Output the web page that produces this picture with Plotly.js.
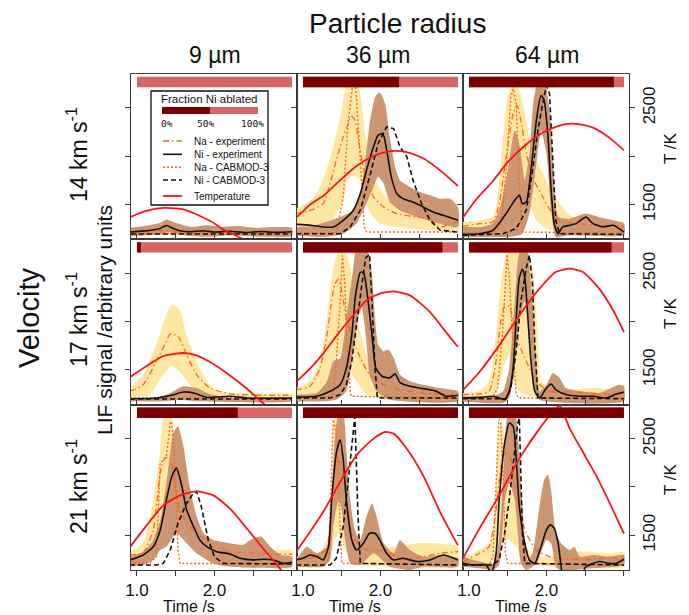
<!DOCTYPE html>
<html><head><meta charset="utf-8">
<script src="https://cdn.plot.ly/plotly-3.0.1.min.js"></script>
<style>html,body{margin:0;padding:0;background:#fff}#chart{width:689px;height:615px}</style>
</head><body><div id="chart"></div>
<script>
// ---------- labels ----------
const radii = ['9 µm', '36 µm', '64 µm'];
const velocities = ['14 km s<sup>-1</sup>', '17 km s<sup>-1</sup>', '21 km s<sup>-1</sup>'];
const legendLabels = ['Na - experiment', 'Ni - experiment', 'Na - CABMOD-3', 'Ni - CABMOD-3', 'Temperature'];
const fractionLegendTicks = ['0%', '50%', '100%'];
const legendBarFraction = 0.5;
const timeTicks = [1.0, 2.0];
const timeTickText = ['1.0', '2.0'];
const timeMinorStep = 0.5;
const tempTicks = [1500, 2500];
const tempTickText = ['1500', '2500'];
const tempMinorStep = 500;
const tempRange = [1140, 2852];
// fraction of Ni ablated, panels row by row (14, 17, 21 km/s) x (9, 36, 64 µm)
const fractionNiAblated = [0.0, 0.62, 0.935, 0.025, 0.90, 0.92, 0.65, 1.0, 1.0];

// ---------- data: [time s, value]; LIF in arbitrary units (0-100 panel), T in K ----------
// 14 km/s, 9 µm
const p11_temp = [[0.92,1372],[1.0,1400],[1.12,1435],[1.25,1458],[1.36,1466],[1.5,1460],[1.6,1450],[1.75,1405],[1.86,1364],[2.0,1305],[2.11,1243],[2.25,1190],[2.37,1140],[2.5,1080],[2.63,1019]];
const p11_naHi = [[0.92,6.5],[1.3,7.5],[1.6,6.5],[2.0,6.2],[2.5,6.5],[3.0,6.3]];
const p11_naLo = [[0.92,2.5],[1.5,2.8],[2.0,2.4],[3.0,2.5]];
const p11_naExp = [[0.92,4.2],[1.1,4.6],[1.3,5.2],[1.45,4.8],[1.6,4.2],[1.8,4.5],[2.0,4.0],[2.2,4.4],[2.4,4.0],[2.6,4.3],[2.8,4.0],[3.0,4.3]];
const p11_niHi = [[0.92,7],[1.1,8],[1.3,10],[1.38,12],[1.5,10],[1.7,7.5],[1.9,8.5],[2.1,7.5],[2.3,8],[2.5,7],[2.8,7.5],[3.0,7]];
const p11_niLo = [[0.92,2],[1.3,3],[1.4,4.5],[1.6,2.5],[1.9,1.5],[2.2,2.5],[2.6,1.5],[3.0,2]];
const p11_niExp = [[0.92,4.4],[1.0,4.8],[1.1,5.1],[1.2,5.6],[1.3,6.6],[1.38,8.4],[1.45,7.0],[1.55,5.2],[1.7,4.6],[1.85,5.2],[2.0,4.4],[2.2,4.9],[2.4,4.1],[2.6,4.7],[2.8,4.2],[3.0,4.6]];
const p11_naCab = [[0.92,3.6],[3.0,3.6]];
const p11_niCab = [[0.92,3.2],[3.0,3.2]];
// 14 km/s, 36 µm
const p12_temp = [[0.91,1364],[1.0,1430],[1.1,1505],[1.26,1588],[1.45,1730],[1.69,1899],[1.91,2003],[2.05,2040],[2.17,2055],[2.34,2044],[2.55,1979],[2.77,1854],[3.0,1692]];
const p12_naHi = [[0.91,18.6],[1.0,20.6],[1.1,23.6],[1.2,29.7],[1.3,41.8],[1.4,58],[1.5,78],[1.56,94],[1.63,99],[1.7,96],[1.76,82],[1.8,64],[1.9,40],[2.0,30],[2.1,24.6],[2.2,21.6],[2.4,19.6],[2.6,17.6],[2.8,15.6],[3.0,13.5]];
const p12_naLo = [[0.91,3.4],[1.1,4.4],[1.3,7.5],[1.4,13.5],[1.5,21.6],[1.58,35.8],[1.65,38.8],[1.74,35.8],[1.8,23.6],[1.9,13.5],[2.0,9.5],[2.2,7.5],[2.6,5.9],[3.0,5.1]];
const p12_naExp = [[0.91,15.6],[1.1,17.6],[1.26,21.6],[1.35,33.7],[1.43,47.9],[1.52,62],[1.585,70],[1.62,74.5],[1.67,72],[1.71,62],[1.76,47.9],[1.82,35.8],[1.91,25.7],[2.04,19.6],[2.21,15.6],[2.47,13.5],[2.64,12.5],[2.72,8.5],[2.81,7.5],[2.9,10.5],[3.0,9.9]];
const p12_niHi = [[0.91,7.5],[1.1,7.9],[1.3,10.5],[1.48,13.5],[1.65,17.6],[1.74,27.7],[1.8,45.9],[1.86,70],[1.93,86],[1.99,89],[2.06,82],[2.12,62],[2.19,43.8],[2.25,35.8],[2.38,31.7],[2.51,28.7],[2.64,26.7],[2.77,24.6],[2.9,24.6],[3.0,19.6]];
const p12_niLo = [[0.91,2.4],[1.26,1.4],[1.52,3.4],[1.69,9.5],[1.8,19.6],[1.91,31.7],[1.97,37.8],[2.04,33.7],[2.12,22.6],[2.25,17.6],[2.47,13.5],[2.68,10.5],[3.0,7.5]];
const p12_niExp = [[0.91,9.1],[1.1,8.5],[1.26,7.5],[1.39,7.5],[1.52,11.5],[1.65,17.6],[1.74,27.7],[1.82,41.8],[1.91,56],[1.97,63],[2.03,64],[2.08,54],[2.14,37.8],[2.21,27.7],[2.29,24.6],[2.42,22.6],[2.55,19.6],[2.68,16.6],[2.81,14.5],[3.0,11.5]];
const p12_naCab = [[0.91,4],[1.43,4],[1.52,25.7],[1.585,72],[1.64,93],[1.68,92],[1.735,52],[1.79,7.5],[1.82,4.4],[3.0,4.4]];
const p12_niCab = [[0.91,3.4],[1.48,3.4],[1.61,7.5],[1.74,17.6],[1.86,37.8],[1.97,58],[2.08,68],[2.17,67],[2.25,56],[2.34,50],[2.42,35.8],[2.53,21.6],[2.64,11.5],[2.77,5.5],[3.0,4.4]];
// 14 km/s, 64 µm
const p13_temp = [[0.92,1364],[1.1,1560],[1.31,1744],[1.5,1940],[1.74,2124],[1.9,2220],[2.04,2279],[2.2,2325],[2.34,2338],[2.5,2320],[2.6,2296],[2.81,2193],[3.0,2061]];
const p13_naHi = [[0.92,10.5],[1.14,11.5],[1.31,13.5],[1.37,25.7],[1.44,62],[1.5,86],[1.57,94],[1.65,90],[1.74,72],[1.8,56],[1.91,43.8],[2.04,31.7],[2.17,21.6],[2.3,14.5],[2.51,11.5],[2.77,10.5],[3.0,10.5]];
const p13_naLo = [[0.92,3.4],[1.31,4.4],[1.39,7.5],[1.48,21.6],[1.57,31.7],[1.65,37.8],[1.72,35.8],[1.78,21.6],[1.87,11.5],[2.0,6.5],[3.0,4.4]];
const p13_naExp = [[0.92,7.9],[1.14,9.5],[1.31,10.5],[1.39,21.6],[1.48,50],[1.57,76],[1.62,81],[1.67,72],[1.74,52],[1.82,37.8],[1.95,25.7],[2.08,15.6],[2.21,10.5],[2.38,9.5],[2.68,8.5],[3.0,7.9]];
const p13_niHi = [[0.92,7.5],[1.14,7.5],[1.31,9.5],[1.415,21.6],[1.5,41.8],[1.59,66],[1.65,58],[1.72,35.8],[1.78,52],[1.83,82],[1.89,96],[1.97,96],[2.04,78],[2.09,41.8],[2.15,13.5],[2.3,12.5],[2.51,15.6],[2.68,13.5],[2.86,11.5],[3.0,9.5]];
const p13_niLo = [[0.92,1.4],[1.31,1.4],[1.52,1.4],[1.69,3.4],[1.78,15.6],[1.87,45.9],[1.93,66],[2.0,52],[2.06,17.6],[2.12,1.4],[2.3,2.4],[3.0,2.4]];
const p13_niExp = [[0.92,3],[1.14,3.4],[1.31,5.5],[1.48,15.6],[1.59,23.6],[1.65,26.7],[1.69,21.6],[1.74,22.6],[1.8,41.8],[1.87,72],[1.93,87],[1.97,84],[2.02,62],[2.06,29.7],[2.1,9.5],[2.15,3.4],[2.21,7.5],[2.3,8.5],[2.38,9.5],[2.51,13.5],[2.6,9.5],[2.73,7.5],[2.86,8.5],[3.0,4.4]];
const p13_naCab = [[0.92,3.8],[1.31,3.8],[1.415,9.5],[1.48,41.8],[1.54,86],[1.57,91],[1.61,82],[1.65,31.7],[1.69,4.4],[3.0,3.8]];
const p13_niCab = [[0.92,2.4],[1.44,3.4],[1.61,6.5],[1.74,17.6],[1.82,41.8],[1.89,66],[1.95,82],[2.0,93],[2.04,88],[2.08,52],[2.12,11.5],[2.17,3.4],[3.0,3]];
// 17 km/s, 9 µm
const p21_temp = [[0.91,1426],[1.17,1564],[1.34,1644],[1.6,1675],[1.77,1651],[1.98,1564],[2.2,1443],[2.42,1305],[2.61,1167],[2.72,1098]];
const p21_naHi = [[0.91,10.1],[1.08,18.2],[1.25,36.4],[1.38,54.5],[1.45,60.6],[1.55,57.6],[1.64,42.4],[1.77,26.3],[1.9,14.1],[2.03,8.1],[2.2,7.1],[2.63,6.5],[3.0,6.5]];
const p21_naLo = [[0.91,3],[1.17,6.1],[1.34,18.2],[1.45,23.2],[1.55,20.2],[1.68,12.1],[1.86,5.1],[2.2,4],[3.0,4]];
const p21_naExp = [[0.91,8.1],[1.08,12.1],[1.25,26.3],[1.38,38.4],[1.43,42.8],[1.53,41.4],[1.64,30.3],[1.77,18.2],[1.94,10.1],[2.2,6.5],[2.63,5.7],[3.0,5.7]];
const p21_niHi = [[0.91,3],[1.25,4],[1.43,7.1],[1.6,11.1],[1.77,10.1],[1.94,6.5],[2.2,4],[3.0,4]];
const p21_niLo = [[0.91,2],[1.34,2],[1.55,3],[1.77,2],[3.0,2]];
const p21_niExp = [[0.91,3.6],[1.25,4],[1.43,5.5],[1.6,7.7],[1.73,7.1],[1.9,4.4],[2.2,5.1],[2.42,4],[3.0,4]];
const p21_naCab = [[0.91,4],[3.0,4]];
const p21_niCab = [[0.91,3.4],[3.0,3.4]];
// 17 km/s, 36 µm
const p22_temp = [[0.91,1374],[1.1,1520],[1.26,1668],[1.45,1870],[1.61,2030],[1.82,2220],[1.99,2289],[2.17,2313],[2.38,2272],[2.64,2099],[2.81,1927],[3.0,1737]];
const p22_naHi = [[0.91,10.1],[1.09,14.1],[1.22,26.3],[1.31,52.5],[1.39,82.8],[1.46,92.9],[1.54,95],[1.61,82.8],[1.67,62.6],[1.74,44.4],[1.82,30.3],[1.95,20.2],[2.12,14.1],[2.34,10.1],[2.64,8.1],[3.0,8.1]];
const p22_naLo = [[0.91,3],[1.18,4],[1.31,12.1],[1.39,26.3],[1.48,30.3],[1.58,22.2],[1.69,14.1],[1.82,6.1],[2.12,3],[3.0,3]];
const p22_naExp = [[0.91,9.1],[1.09,11.1],[1.22,22.2],[1.31,42.4],[1.37,62.6],[1.41,72.7],[1.46,76],[1.5,68.7],[1.56,52.5],[1.65,38.4],[1.74,28.3],[1.86,18.2],[2.04,12.1],[2.25,9.1],[2.55,7.1],[3.0,5.5]];
const p22_niHi = [[0.91,6.1],[1.18,7.1],[1.31,14.1],[1.39,26.3],[1.48,28],[1.56,52.5],[1.65,82.8],[1.69,95],[1.82,95],[1.89,78.8],[1.93,52.5],[1.97,36.4],[2.04,32.3],[2.1,33.3],[2.17,28.3],[2.25,18.2],[2.38,14.1],[2.64,11.1],[2.9,9.1],[3.0,8.1]];
const p22_niLo = [[0.91,2],[1.26,2],[1.43,3],[1.56,8.1],[1.65,32.3],[1.71,52.5],[1.76,58.6],[1.81,42.4],[1.86,18.2],[1.95,8.1],[2.12,3],[3.0,2]];
const p22_niExp = [[0.91,4.6],[1.18,5.1],[1.35,8.1],[1.48,12.1],[1.56,22.2],[1.63,42.4],[1.68,66.7],[1.74,80],[1.78,80],[1.83,66.7],[1.89,42.4],[1.94,22.2],[2.02,17.2],[2.12,16.2],[2.19,18.6],[2.25,13.5],[2.38,11.1],[2.55,9.7],[2.72,8.1],[2.85,5.1],[3.0,5.7]];
const p22_naCab = [[0.91,4],[1.26,4.4],[1.39,6.1],[1.43,26.3],[1.48,62.6],[1.51,90.3],[1.54,72.7],[1.58,22.2],[1.62,5.1],[3.0,4]];
const p22_niCab = [[0.91,4],[1.35,4],[1.48,6.1],[1.56,12.1],[1.63,26.3],[1.69,48.5],[1.76,72.7],[1.81,88.9],[1.86,90.9],[1.89,62.6],[1.93,22.2],[1.96,4],[3.0,4]];
// 17 km/s, 64 µm
const p23_temp = [[0.92,1288],[1.135,1478],[1.39,1754],[1.65,2065],[1.91,2341],[2.12,2514],[2.3,2548],[2.47,2514],[2.68,2341],[2.86,2117],[3.0,1892]];
const p23_naHi = [[0.92,7.1],[1.135,8.1],[1.26,14.1],[1.35,42.4],[1.41,72.7],[1.48,90.9],[1.6,95],[1.74,95],[1.82,82.8],[1.89,42.4],[1.93,14.1],[2.04,10.1],[2.3,9.1],[2.6,10.1],[3.0,8.1]];
const p23_naLo = [[0.92,3],[1.31,4],[1.39,12.1],[1.46,25],[1.52,30],[1.58,14],[1.65,8.1],[1.74,6.1],[1.91,4],[3.0,3]];
const p23_naExp = [[0.92,6.1],[1.135,6.5],[1.26,8.1],[1.35,26.3],[1.41,50.5],[1.46,59.6],[1.52,59.6],[1.57,50.5],[1.65,36.4],[1.74,26.3],[1.87,14.1],[2.04,8.1],[2.38,7.7],[2.68,6.5],[3.0,6.5]];
const p23_niHi = [[0.92,5.1],[1.31,5.1],[1.44,8.1],[1.52,22.2],[1.59,62.6],[1.63,86.9],[1.67,95],[1.74,95],[1.8,72.7],[1.87,26.3],[1.91,8.1],[2.0,12.1],[2.08,19.2],[2.17,16.2],[2.25,10.1],[2.43,8.1],[2.68,7.1],[2.94,12.1],[3.0,11.1]];
const p23_niLo = [[0.92,2],[1.44,1],[1.52,4],[1.59,22.2],[1.65,52.5],[1.72,62.6],[1.78,42.4],[1.85,10.1],[1.91,3],[3.0,2]];
const p23_niExp = [[0.92,4],[1.135,4.4],[1.31,5.1],[1.39,4],[1.46,3],[1.52,8.1],[1.57,22.2],[1.61,52.5],[1.65,76.8],[1.69,81.8],[1.72,76.8],[1.76,52.5],[1.8,26.3],[1.85,8.1],[1.91,4],[2.0,10.1],[2.06,12.5],[2.12,9.1],[2.25,6.1],[2.43,5.1],[2.6,5.1],[2.77,4],[2.9,6.5],[3.0,7.7]];
const p23_naCab = [[0.92,4],[1.31,4.4],[1.37,10.1],[1.43,42.4],[1.47,72.7],[1.49,90.9],[1.52,78.8],[1.57,32.3],[1.61,6.1],[1.65,4],[3.0,4]];
const p23_niCab = [[0.92,3.6],[1.48,3.6],[1.54,10.1],[1.61,32.3],[1.67,62.6],[1.74,82.8],[1.78,90.5],[1.82,72.7],[1.85,36.4],[1.89,4],[3.0,3.6]];
// 21 km/s, 9 µm
const p31_temp = [[0.91,1378],[1.125,1602],[1.34,1809],[1.555,1913],[1.77,1954],[1.985,1913],[2.2,1775],[2.42,1568],[2.63,1360],[2.76,1240],[2.9,1100]];
const p31_naHi = [[0.91,11.1],[1.08,16.2],[1.21,42.4],[1.3,72.7],[1.34,92],[1.43,96],[1.5,70],[1.58,45],[1.64,34.3],[1.77,26.3],[1.83,14.1],[1.98,11.1],[2.2,9.7],[2.63,11.1],[3.0,12.1]];
const p31_naLo = [[0.91,4],[1.125,5.1],[1.25,8.1],[1.34,18.2],[1.43,32.3],[1.51,36.4],[1.6,30.3],[1.73,18.2],[1.86,10.1],[2.03,6.1],[3.0,4]];
const p31_naExp = [[0.91,9.1],[1.08,10.5],[1.21,24.2],[1.3,58.6],[1.36,67.5],[1.42,68.1],[1.49,50.5],[1.55,36.4],[1.68,26.3],[1.83,20.2],[1.98,14.1],[2.2,11.1],[2.46,10.5],[2.72,9.7],[3.0,9.5]];
const p31_niHi = [[0.91,8.1],[1.08,11.1],[1.21,18.2],[1.3,30.3],[1.38,52.5],[1.47,82.8],[1.53,86.9],[1.6,74.7],[1.68,50.5],[1.77,32.3],[1.86,22.2],[1.985,18.2],[2.2,16.2],[2.37,15.2],[2.46,18.2],[2.6,20.2],[2.72,14.1],[2.85,9.1],[3.0,8.1]];
const p31_niLo = [[0.91,2],[1.08,3],[1.21,6.1],[1.3,12.1],[1.38,14.1],[1.51,22.2],[1.64,16.2],[1.77,10.1],[1.985,4],[2.2,2],[3.0,2]];
const p31_niExp = [[0.91,6.1],[1.08,9.1],[1.21,14.1],[1.3,24.2],[1.38,42.4],[1.45,56.6],[1.51,61.6],[1.58,50.5],[1.64,36.4],[1.73,26.3],[1.81,18.2],[1.9,14.1],[2.03,11.1],[2.2,9.7],[2.33,7.1],[2.5,6.1],[2.63,6.5],[2.76,6.1],[2.89,4],[3.0,4.6]];
const p31_naCab = [[0.91,4],[1.17,4.4],[1.25,8.1],[1.3,64.6],[1.34,66.7],[1.38,68.7],[1.43,88.9],[1.45,89.9],[1.49,62.6],[1.53,12.1],[1.555,4],[3.0,3.6]];
const p31_niCab = [[0.91,3],[1.25,3],[1.34,4],[1.43,12.1],[1.53,28.3],[1.64,40.4],[1.73,46.5],[1.77,47.5],[1.83,38.4],[1.92,18.2],[2.0,8.1],[2.11,4],[3.0,3.6]];
// 21 km/s, 36 µm
const p32_temp = [[0.91,1326],[1.09,1533],[1.26,1740],[1.48,2051],[1.69,2327],[1.91,2500],[2.06,2569],[2.17,2552],[2.34,2396],[2.55,2120],[2.77,1740],[3.0,1395]];
const p32_naHi = [[0.91,8.1],[1.18,9.1],[1.31,18.2],[1.37,52.5],[1.41,90.9],[1.48,92.9],[1.52,72.7],[1.56,42.4],[1.63,26.3],[1.69,18.2],[1.82,14.1],[1.99,14.1],[2.21,14.1],[2.47,16.2],[2.72,16.2],[3.0,14.1]];
const p32_naLo = [[0.91,2],[1.26,2],[1.35,6.1],[1.41,18.2],[1.48,22.2],[1.54,12.1],[1.69,4],[2.12,2],[3.0,2]];
const p32_naExp = [[0.91,7.1],[1.18,8.1],[1.31,14.1],[1.37,42.4],[1.41,62.6],[1.46,65.7],[1.5,62.6],[1.56,42.4],[1.63,22.2],[1.74,14.1],[1.91,11.1],[2.04,12.1],[2.21,8.1],[2.38,7.1],[2.55,8.1],[2.77,10.1],[3.0,11.1]];
const p32_niHi = [[0.91,6.1],[1.05,14.1],[1.18,10.1],[1.31,14.1],[1.37,42.4],[1.41,78.8],[1.46,95],[1.52,95],[1.56,72.7],[1.61,42.4],[1.67,24.2],[1.74,18.2],[1.82,32.3],[1.89,40.4],[1.95,32.3],[2.04,16.2],[2.17,10.1],[2.25,18.2],[2.38,12.1],[2.55,8.1],[2.77,9.1],[3.0,7.1]];
const p32_niLo = [[0.91,2],[1.26,2],[1.35,6.1],[1.39,26.3],[1.46,42.4],[1.5,36.4],[1.55,16.2],[1.61,4],[1.74,3],[1.91,10.1],[2.12,2],[2.38,0],[2.55,2],[3.0,2]];
const p32_niExp = [[0.91,6.1],[1.0,7.1],[1.09,9.1],[1.18,8.1],[1.26,6.1],[1.33,14.1],[1.37,42.4],[1.43,70.7],[1.48,78.8],[1.52,66.7],[1.56,42.4],[1.63,18.2],[1.69,12.1],[1.78,16.2],[1.86,22.2],[1.93,22.2],[1.99,18.2],[2.08,10.1],[2.17,6.1],[2.29,7.1],[2.47,5.1],[2.64,6.1],[2.81,9.1],[3.0,6.1]];
const p32_naCab = [[0.91,3],[1.26,3],[1.33,6.1],[1.37,62.6],[1.39,90.9],[1.43,82.8],[1.47,42.4],[1.5,4],[3.0,3]];
const p32_niCab = [[0.91,3],[1.35,3],[1.43,7.1],[1.52,26.3],[1.58,52.5],[1.65,86.9],[1.67,92.9],[1.69,62.6],[1.71,32.3],[1.74,4],[3.0,3]];
// 21 km/s, 64 µm
const p33_temp = [[0.92,1257],[1.135,1568],[1.39,1913],[1.65,2293],[1.91,2604],[2.08,2776],[2.17,2840],[2.3,2604],[2.47,2362],[2.64,2120],[2.81,1844],[3.0,1516]];
const p33_naHi = [[0.92,7.1],[1.135,12.1],[1.26,16.2],[1.33,32.3],[1.37,72.7],[1.41,90.9],[1.46,82.8],[1.5,62.6],[1.54,48.5],[1.59,42.4],[1.65,32.3],[1.74,14.1],[1.87,8.1],[2.17,8.5],[2.38,11.1],[2.6,11.1],[2.81,10.1],[3.0,10.5]];
const p33_naLo = [[0.92,3],[1.26,3],[1.35,8.1],[1.44,18.2],[1.52,18.2],[1.61,14.1],[1.69,6.1],[1.87,3],[3.0,2]];
const p33_naExp = [[0.92,5.1],[1.135,10.1],[1.26,14.1],[1.35,36.4],[1.415,62.6],[1.46,70.7],[1.5,71.7],[1.54,66.7],[1.59,52.5],[1.65,36.4],[1.74,22.2],[1.87,12.1],[2.04,8.1],[2.25,6.5],[2.51,6.5],[2.77,7.1],[3.0,7.1]];
const p33_niHi = [[0.92,8.1],[1.135,5.1],[1.31,4],[1.37,12.1],[1.44,52.5],[1.48,88.9],[1.52,96],[1.59,96],[1.63,82.8],[1.67,52.5],[1.72,18.2],[1.76,6.1],[1.82,10.1],[1.91,38.4],[1.97,54.5],[2.02,57.6],[2.06,48.5],[2.12,22.2],[2.19,16.2],[2.3,12.1],[2.36,14.1],[2.43,8.1],[2.6,9.1],[2.81,8.1],[3.0,9.1]];
const p33_niLo = [[0.92,2],[1.135,1],[1.31,0],[1.39,3],[1.46,42.4],[1.52,52.5],[1.59,42.4],[1.63,22.2],[1.67,4],[1.74,0],[1.87,4],[2.0,18.2],[2.06,16.2],[2.12,2],[2.21,-1],[2.38,0],[2.6,1],[3.0,3]];
const p33_niExp = [[0.92,4],[1.05,3],[1.22,3],[1.29,-2],[1.35,10.1],[1.39,42.4],[1.46,76.8],[1.52,88.9],[1.57,86.9],[1.61,66.7],[1.65,38.4],[1.72,16.2],[1.78,6.1],[1.85,4],[1.93,14.1],[2.0,24.2],[2.05,27.3],[2.1,25.3],[2.15,16.2],[2.19,2],[2.21,-3],[2.45,-3],[2.51,2],[2.68,5.1],[2.81,4],[2.9,4],[3.0,6.5]];
const p33_naCab = [[0.92,3],[1.26,3],[1.31,8.1],[1.35,52.5],[1.385,90.9],[1.41,88.9],[1.445,52.5],[1.47,10.1],[1.5,4],[3.0,3]];
const p33_niCab = [[0.92,3],[1.31,3],[1.39,6.1],[1.46,22.2],[1.52,42.4],[1.59,72.7],[1.63,88.9],[1.65,91.9],[1.67,62.6],[1.69,22.2],[1.72,4],[3.0,3]];

// ---------- assemble ----------
const panels = [
  {temp:p11_temp,naHi:p11_naHi,naLo:p11_naLo,naExp:p11_naExp,niHi:p11_niHi,niLo:p11_niLo,niExp:p11_niExp,naCab:p11_naCab,niCab:p11_niCab},
  {temp:p12_temp,naHi:p12_naHi,naLo:p12_naLo,naExp:p12_naExp,niHi:p12_niHi,niLo:p12_niLo,niExp:p12_niExp,naCab:p12_naCab,niCab:p12_niCab},
  {temp:p13_temp,naHi:p13_naHi,naLo:p13_naLo,naExp:p13_naExp,niHi:p13_niHi,niLo:p13_niLo,niExp:p13_niExp,naCab:p13_naCab,niCab:p13_niCab},
  {temp:p21_temp,naHi:p21_naHi,naLo:p21_naLo,naExp:p21_naExp,niHi:p21_niHi,niLo:p21_niLo,niExp:p21_niExp,naCab:p21_naCab,niCab:p21_niCab},
  {temp:p22_temp,naHi:p22_naHi,naLo:p22_naLo,naExp:p22_naExp,niHi:p22_niHi,niLo:p22_niLo,niExp:p22_niExp,naCab:p22_naCab,niCab:p22_niCab},
  {temp:p23_temp,naHi:p23_naHi,naLo:p23_naLo,naExp:p23_naExp,niHi:p23_niHi,niLo:p23_niLo,niExp:p23_niExp,naCab:p23_naCab,niCab:p23_niCab},
  {temp:p31_temp,naHi:p31_naHi,naLo:p31_naLo,naExp:p31_naExp,niHi:p31_niHi,niLo:p31_niLo,niExp:p31_niExp,naCab:p31_naCab,niCab:p31_niCab},
  {temp:p32_temp,naHi:p32_naHi,naLo:p32_naLo,naExp:p32_naExp,niHi:p32_niHi,niLo:p32_niLo,niExp:p32_niExp,naCab:p32_naCab,niCab:p32_niCab},
  {temp:p33_temp,naHi:p33_naHi,naLo:p33_naLo,naExp:p33_naExp,niHi:p33_niHi,niLo:p33_niLo,niExp:p33_niExp,naCab:p33_naCab,niCab:p33_niCab}
];

const FONT = 'Liberation Sans, Arial, Helvetica, sans-serif';
const C = {
  yellow: '#FDE7A2', brown: '#CD9672', orange: '#FF6419', black: '#111111',
  red: '#FF1414', dark: '#7A0000', light: '#D46666', frame: '#3a3a3a'
};
const STY = {
  naExp: {color: C.orange, width: 1.3, dash: '6px,3px,1.5px,3px'},
  niExp: {color: C.black, width: 1.6, dash: 'solid'},
  naCab: {color: C.orange, width: 1.4, dash: '2px,2px'},
  niCab: {color: C.black, width: 1.6, dash: '5px,3px'},
  temp:  {color: C.red, width: 1.8, dash: 'solid'}
};
const X = p => p === 1 ? 'x' : 'x' + p;
const Y = p => p === 1 ? 'y' : 'y' + p;
const tx = a => a.map(d => d[0]);
const ty = a => a.map(d => d[1]);
const vOfT = T => (T - tempRange[0]) / (tempRange[1] - tempRange[0]) * 100;

const traces = [];
function band(hi, lo, color, p) {
  const lr = lo.slice().reverse();
  return {x: tx(hi).concat(tx(lr)), y: ty(hi).concat(ty(lr)), type: 'scatter', mode: 'lines',
    fill: 'toself', fillcolor: color, line: {width: 0, shape: 'spline', smoothing: 0.5},
    xaxis: X(p), yaxis: Y(p), hoverinfo: 'skip', showlegend: false};
}
function line(arr, sty, p, ya, shape) {
  return {x: tx(arr), y: ty(arr), type: 'scatter', mode: 'lines',
    line: {color: sty.color, width: sty.width, dash: sty.dash, shape: shape || 'linear', smoothing: 0.6},
    xaxis: X(p), yaxis: ya, hoverinfo: 'skip', showlegend: false};
}
panels.forEach((d, i) => {
  const p = i + 1;
  traces.push(band(d.naHi, d.naLo, C.yellow, p));
  traces.push(band(d.niHi, d.niLo, C.brown, p));
  traces.push(line(d.naCab, STY.naCab, p, Y(p)));
  traces.push(line(d.naExp, STY.naExp, p, Y(p), 'spline'));
  traces.push(line(d.niCab, STY.niCab, p, Y(p)));
  traces.push(line(d.niExp, STY.niExp, p, Y(p), 'spline'));
  traces.push(line(d.temp, STY.temp, p, 'y' + (p + 9), 'spline'));
});

// ---------- layout ----------
const L = 131, R = 629, TOP = 74, BOT = 570;
const PX = x => (x - L) / (R - L);
const PY = y => (BOT - y) / (BOT - TOP);

const layout = {
  width: 689, height: 615, margin: {l: L, r: 689 - R, t: TOP, b: 615 - BOT, pad: 0},
  paper_bgcolor: '#fff', plot_bgcolor: 'rgba(0,0,0,0)', showlegend: false,
  font: {family: FONT, color: '#111'}, shapes: [], annotations: []
};
for (let p = 1; p <= 9; p++) {
  const r = Math.floor((p - 1) / 3), c = (p - 1) % 3;
  const xt = r === 2 ? 'outside' : 'inside';
  layout['xaxis' + (p === 1 ? '' : p)] = {
    domain: [c / 3, (c + 1) / 3], anchor: Y(p), range: [0.923, 3.065],
    tickmode: 'array', tickvals: timeTicks, ticktext: timeTickText,
    showticklabels: r === 2, ticks: xt, ticklen: 5, tickwidth: 1, tickcolor: C.frame,
    minor: {tick0: 1, dtick: timeMinorStep, ticks: xt, ticklen: 5, tickwidth: 1, tickcolor: C.frame, showgrid: false},
    showline: true, mirror: true, linecolor: C.frame, linewidth: 1,
    showgrid: false, zeroline: false, fixedrange: true,
    tickfont: {family: FONT, size: 17, color: '#111'}
  };
  layout['yaxis' + (p === 1 ? '' : p)] = {
    domain: [1 - (r + 1) / 3, 1 - r / 3], anchor: X(p), range: [0, 100],
    tickmode: 'array', tickvals: [1500, 2000, 2500].map(vOfT), showticklabels: false,
    ticks: 'outside', ticklen: 5, tickwidth: 1, tickcolor: C.frame,
    showline: true, mirror: true, linecolor: C.frame, linewidth: 1,
    showgrid: false, zeroline: false, fixedrange: true
  };
  const tAx = {
    overlaying: Y(p), anchor: X(p), side: 'right', range: tempRange,
    showline: false, showgrid: false, zeroline: false, fixedrange: true
  };
  if (c === 2) {
    Object.assign(tAx, {tickmode: 'array', tickvals: tempTicks, ticktext: tempTickText,
      showticklabels: true, ticks: 'outside', ticklen: 5, tickwidth: 1, tickcolor: C.frame, tickangle: -90,
      minor: {tick0: 1500, dtick: tempMinorStep, ticks: 'outside', ticklen: 5, tickwidth: 1, tickcolor: C.frame, showgrid: false},
      tickfont: {family: FONT, size: 17, color: '#111'}});
  } else {
    Object.assign(tAx, {visible: false});
  }
  layout['yaxis' + (p + 9)] = tAx;
}

// fraction-ablated bars (top of each panel)
fractionNiAblated.forEach((f, i) => {
  const p = i + 1;
  layout.shapes.push({type: 'rect', xref: X(p), yref: Y(p), x0: 1, x1: 3, y0: 92, y1: 98.3,
    fillcolor: C.light, line: {width: 0}, layer: 'above'});
  if (f > 0) layout.shapes.push({type: 'rect', xref: X(p), yref: Y(p), x0: 1, x1: 1 + 2 * f, y0: 92, y1: 98.3,
    fillcolor: C.dark, line: {width: 0}, layer: 'above'});
});

// legend (inside top-left panel)
const box = {x0: 151, x1: 268, y0: 91, y1: 205};
layout.shapes.push({type: 'rect', xref: 'paper', yref: 'paper', x0: PX(box.x0), x1: PX(box.x1), y0: PY(box.y1), y1: PY(box.y0),
  fillcolor: '#fff', line: {color: '#111', width: 1.3}, layer: 'above'});
const lb = {x0: 162, x1: 258, y0: 107, y1: 114};
layout.shapes.push({type: 'rect', xref: 'paper', yref: 'paper', x0: PX(lb.x0), x1: PX(lb.x1), y0: PY(lb.y1), y1: PY(lb.y0),
  fillcolor: C.light, line: {width: 0}, layer: 'above'});
layout.shapes.push({type: 'rect', xref: 'paper', yref: 'paper', x0: PX(lb.x0), x1: PX(lb.x0 + (lb.x1 - lb.x0) * legendBarFraction), y0: PY(lb.y1), y1: PY(lb.y0),
  fillcolor: C.dark, line: {width: 0}, layer: 'above'});
layout.annotations.push({xref: 'paper', yref: 'paper', x: PX(209), y: PY(98.5), text: 'Fraction Ni ablated', showarrow: false,
  xanchor: 'center', yanchor: 'middle', font: {family: FONT, size: 11.5, color: '#111'}});
const pctX = [166.5, 205, 252.5];
fractionLegendTicks.forEach((t, i) => layout.annotations.push({xref: 'paper', yref: 'paper', x: PX(pctX[i]), y: PY(123.5), text: t,
  showarrow: false, xanchor: 'center', yanchor: 'middle', font: {family: 'DejaVu Sans Mono, Liberation Mono, monospace', size: 9.5, color: '#111'}}));
const entrySty = [STY.naExp, STY.niExp, STY.naCab, STY.niCab, STY.temp];
const entryY = [141, 154.3, 167.3, 180, 196];
legendLabels.forEach((lab, i) => {
  const s = entrySty[i];
  layout.shapes.push({type: 'line', xref: 'paper', yref: 'paper', x0: PX(163), x1: PX(182), y0: PY(entryY[i]), y1: PY(entryY[i]),
    line: {color: s.color, width: s.width, dash: s.dash}, layer: 'above'});
  layout.annotations.push({xref: 'paper', yref: 'paper', x: PX(192), y: PY(entryY[i]), text: lab, showarrow: false,
    xanchor: 'left', yanchor: 'middle', font: {family: FONT, size: 10, color: '#111'}});
});

// titles / labels
const ann = (x, y, text, size, angle) => layout.annotations.push({xref: 'paper', yref: 'paper',
  x: PX(x), y: PY(y), text: text, showarrow: false, xanchor: 'center', yanchor: 'middle', textangle: angle || 0,
  font: {family: FONT, size: size, color: '#111'}});
ann(397, 23, 'Particle radius', 28);
const colX = [215, 378, 547];
radii.forEach((t, i) => ann(colX[i], 55, t, 23));
const rowY = [155, 320, 487];
velocities.forEach((t, i) => ann(77, rowY[i], t, 23, -90));
ann(29, 318, 'Velocity', 29, -90);
ann(104, 320, 'LIF signal /arbitrary units', 21, -90);
const tkY = [148, 313, 479];
tkY.forEach(y => ann(670, y, 'T /K', 17, -90));
const timeX = [189, 355, 521];
timeX.forEach(x => ann(x, 606, 'Time /s', 16));

Plotly.newPlot('chart', traces, layout, {staticPlot: true, displayModeBar: false});
</script></body></html>
